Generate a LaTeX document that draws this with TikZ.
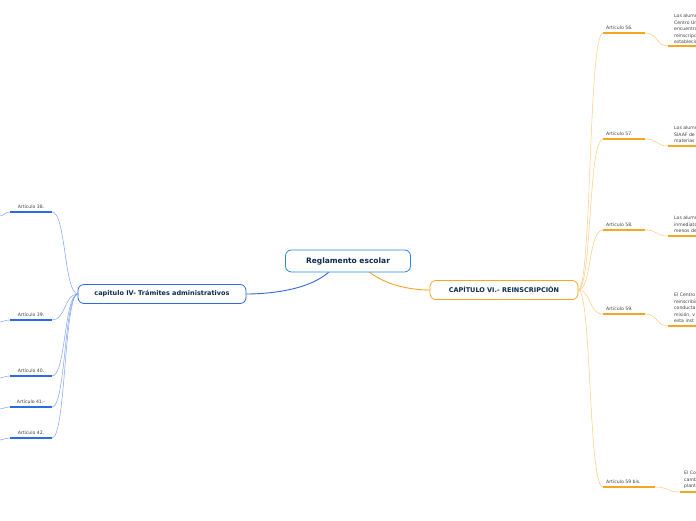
\documentclass[tikz,border=0pt]{standalone}
\usepackage{fontspec}
\setmainfont{DejaVu Sans}
\definecolor{mblue}{HTML}{2D6BE4}
\definecolor{lblue}{HTML}{7FA4F0}
\definecolor{morange}{HTML}{F5A623}
\definecolor{lorange}{HTML}{FBCB7E}
\definecolor{navy}{HTML}{0D2A4F}
\begin{document}
\begin{tikzpicture}[x=1pt,y=-1pt,
  chap/.style={draw,rounded corners=6pt,line width=0.8pt,fill=white,font=\bfseries\fontsize{6.5}{7}\selectfont,text=navy,inner xsep=6pt,minimum height=19pt},
  art/.style={font=\fontsize{4.6}{5}\selectfont,text=black!75,anchor=south west,inner sep=1pt},
  leaf/.style={font=\fontsize{4.6}{6.5}\selectfont,text=black!75,align=left,anchor=south west,inner sep=0pt},
  oc/.style={draw=lorange,line width=0.5pt},
  bc/.style={draw=lblue,line width=0.5pt},
  ou/.style={draw=morange,line width=1.3pt},
  bu/.style={draw=mblue,line width=1.3pt}]
\useasboundingbox (0,0) rectangle (696,520);
\clip (0,0) rectangle (696,520);
\fill[white] (0,0) rectangle (696,520);
\coordinate (rl) at (330,271);
\coordinate (rr) at (368,271);
\draw[draw=mblue,line width=0.9pt] (rl) .. controls (310,290) and (270,294) .. (246,294);
\draw[draw=morange,line width=0.9pt] (rr) .. controls (385,285) and (410,290) .. (430,290);
\node[chap,draw=mblue!80!cyan,minimum width=125pt,minimum height=22pt,font=\bfseries\fontsize{7.5}{8}\selectfont] (root) at (348,261) {Reglamento escolar};
\node[chap,draw=morange,minimum width=148pt] (rc) at (504,290) {CAPÍTULO VI.- REINSCRIPCIÓN};
\node[chap,draw=mblue,minimum width=168pt] (lc) at (162,294) {capitulo IV- Trámites administrativos};
\foreach \y/\t/\e in {33/Artículo 56./645,139/Artículo 57./645,230/Artículo 58./645,314/Artículo 59./645,487/Artículo 59 bis./655}{
  \coordinate (a) at (603,\y); \coordinate (b) at (\e,\y);
  \draw[oc] (578,290) .. controls (592,290) and (588,\y) .. (a);
  \draw[ou] (a) -- (b);
  \node[art] at (605,\y-2) {\t};
}
\foreach \y/\x in {46/668,146/668,236/668,326/668}{
  \draw[ou] (\x,\y) -- (696,\y);
}
\draw[oc] (645,33) .. controls (658,33) and (656,46) .. (668,46);
\draw[oc] (645,139) .. controls (658,139) and (656,146) .. (668,146);
\draw[oc] (645,230) .. controls (658,230) and (656,236) .. (668,236);
\draw[oc] (645,314) .. controls (658,314) and (656,326) .. (668,326);
\draw[oc] (655,487) .. controls (668,487) and (668,492) .. (680,492);
\draw[ou] (680,492) -- (696,492);
\node[leaf] (l56) at (674,44) {Los alumnos\\Centro Uni\\encuentran\\reinscripción\\establecido};
\node[leaf] (l57) at (674,143) {Los alumnos\\SIAAF de\\materias};
\node[leaf] (l58) at (674,233) {Los alumnos\\inmediato\\menos de};
\node[leaf] (l59) at (674,323) {El Centro\\reinscribir\\conducta\\misión, v\\esta inst};
\node[leaf] (l59b) at (684,489) {El Con\\camb\\plant};
\foreach \y/\t in {212/Artículo 38.,320/Artículo 39.,376/Artículo 40.,407/Artículo 41.-,438/Artículo 42.}{
  \draw[bc] (78,294) .. controls (64,294) and (66,\y) .. (52,\y);
  \draw[bu] (10,\y) -- (52,\y);
  \node[art,anchor=south] at (31,\y-2) {\t};
}
\draw[bc] (10,212) .. controls (5,212) and (3,216) .. (0,216);
\draw[bc] (10,320) .. controls (5,320) and (3,322) .. (0,322);
\draw[bc] (10,376) .. controls (5,376) and (3,378) .. (0,378);
\draw[bc] (10,407) .. controls (5,407) and (3,409) .. (0,409);
\draw[bc] (10,438) .. controls (5,438) and (3,440) .. (0,440);
\end{tikzpicture}
\end{document}
